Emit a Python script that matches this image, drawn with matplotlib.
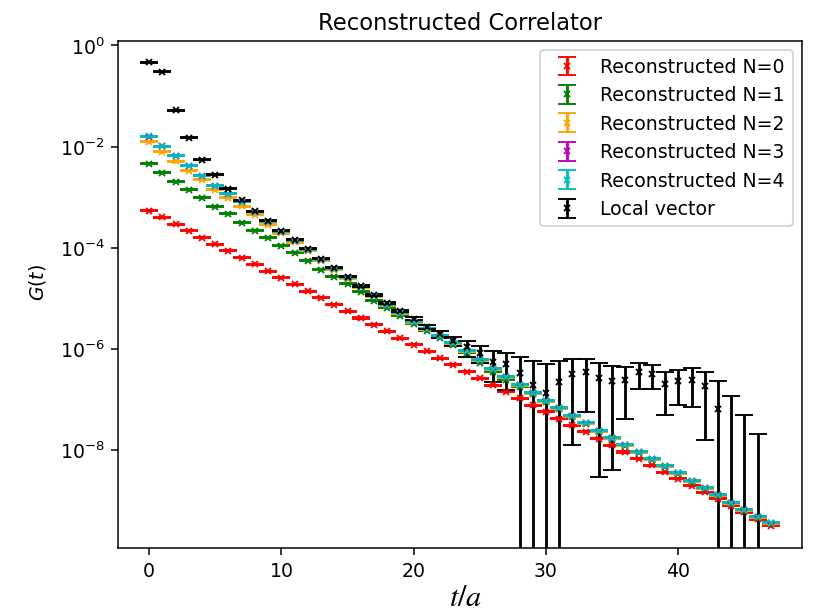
import numpy as np
import matplotlib
matplotlib.use("Agg")
import matplotlib.pyplot as plt
from matplotlib.ticker import FixedLocator, NullLocator

# ---------------- data ----------------
t = list(range(48))

G_N0 = [5.41e-4, 3.99e-4, 2.94e-4, 2.17e-4, 1.60e-4, 1.18e-4, 8.69e-5, 6.40e-5,
        4.72e-5, 3.48e-5, 2.56e-5, 1.89e-5, 1.39e-5, 1.03e-5, 7.57e-6, 5.58e-6,
        4.12e-6, 3.03e-6, 2.24e-6, 1.65e-6, 1.22e-6, 8.97e-7, 6.61e-7, 4.88e-7,
        3.59e-7, 2.65e-7, 1.95e-7, 1.44e-7, 1.06e-7, 7.82e-8, 5.77e-8, 4.25e-8,
        3.13e-8, 2.31e-8, 1.70e-8, 1.26e-8, 9.27e-9, 6.83e-9, 5.04e-9, 3.71e-9,
        2.74e-9, 2.02e-9, 1.49e-9, 1.10e-9, 8.08e-10, 5.96e-10, 4.39e-10, 3.24e-10]

G_N1 = [4.59e-3, 3.05e-3, 2.02e-3, 1.41e-3, 9.78e-4, 6.49e-4, 4.72e-4, 3.13e-4,
        2.18e-4, 1.58e-4, 1.10e-4, 8.00e-5, 5.56e-5, 3.69e-5, 2.69e-5, 1.95e-5,
        1.36e-5, 9.01e-6, 6.55e-6, 4.55e-6, 3.16e-6, 2.30e-6, 1.67e-6, 1.22e-6,
        8.45e-7, 5.36e-7, 3.56e-7, 2.47e-7, 1.80e-7, 1.31e-7, 9.12e-8, 6.64e-8,
        4.62e-8, 3.35e-8, 2.33e-8, 1.70e-8, 1.23e-8, 8.97e-9, 6.52e-9, 4.74e-9,
        3.45e-9, 2.40e-9, 1.75e-9, 1.27e-9, 8.81e-10, 6.40e-10, 4.66e-10, 3.54e-10]

G_N2 = [1.25e-2, 7.93e-3, 5.10e-3, 3.34e-3, 2.22e-3, 1.41e-3, 9.78e-4, 6.58e-4,
        4.51e-4, 2.86e-4, 1.94e-4, 1.29e-4, 8.77e-5, 5.56e-5, 3.69e-5, 2.45e-5,
        1.67e-5, 1.11e-5, 7.37e-6, 5.12e-6, 3.41e-6, 2.48e-6, 1.80e-6, 1.31e-6,
        9.10e-7, 6.05e-7, 4.02e-7, 2.79e-7, 1.94e-7, 1.35e-7, 9.36e-8, 6.82e-8,
        4.74e-8, 3.44e-8, 2.40e-8, 1.75e-8, 1.26e-8, 9.21e-9, 6.70e-9, 4.87e-9,
        3.54e-9, 2.47e-9, 1.80e-9, 1.30e-9, 9.06e-10, 6.58e-10, 4.79e-10, 3.64e-10]

G_N3 = [1.58e-2, 1.01e-2, 6.60e-3, 4.19e-3, 2.66e-3, 1.69e-3, 1.17e-3, 8.15e-4,
        5.17e-4, 3.28e-4, 2.08e-4, 1.38e-4, 9.16e-5, 5.82e-5, 3.86e-5, 2.56e-5,
        1.70e-5, 1.13e-5, 7.50e-6, 5.21e-6, 3.47e-6, 2.52e-6, 1.83e-6, 1.33e-6,
        9.25e-7, 6.15e-7, 4.08e-7, 2.83e-7, 1.97e-7, 1.37e-7, 9.50e-8, 6.92e-8,
        4.81e-8, 3.49e-8, 2.43e-8, 1.77e-8, 1.28e-8, 9.34e-9, 6.79e-9, 4.94e-9,
        3.59e-9, 2.50e-9, 1.82e-9, 1.32e-9, 9.18e-10, 6.67e-10, 4.85e-10, 3.69e-10]

G_N4 = [1.59e-2, 1.01e-2, 6.61e-3, 4.19e-3, 2.66e-3, 1.69e-3, 1.17e-3, 8.15e-4,
        5.17e-4, 3.28e-4, 2.08e-4, 1.38e-4, 9.16e-5, 5.82e-5, 3.86e-5, 2.56e-5,
        1.70e-5, 1.13e-5, 7.50e-6, 5.21e-6, 3.47e-6, 2.52e-6, 1.83e-6, 1.33e-6,
        9.25e-7, 6.15e-7, 4.08e-7, 2.83e-7, 1.97e-7, 1.37e-7, 9.50e-8, 6.92e-8,
        4.81e-8, 3.49e-8, 2.43e-8, 1.77e-8, 1.28e-8, 9.34e-9, 6.79e-9, 4.94e-9,
        3.59e-9, 2.50e-9, 1.82e-9, 1.32e-9, 9.18e-10, 6.67e-10, 4.85e-10, 3.69e-10]

# relative statistical error of the reconstructed correlators (read ~2.5 %)
rel_err_reco = 0.025

G_local = [4.61e-1, 2.98e-1, 5.19e-2, 1.50e-2, 5.51e-3, 2.79e-3, 1.47e-3, 8.65e-4,
           5.24e-4, 3.43e-4, 2.18e-4, 1.45e-4, 9.60e-5, 6.09e-5, 4.05e-5, 2.69e-5,
           1.78e-5, 1.18e-5, 8.22e-6, 5.71e-6, 3.97e-6, 2.76e-6, 2.01e-6, 1.46e-6,
           1.08e-6, 8.45e-7, 5.63e-7, 5.01e-7, 3.40e-7, 1.97e-7, 1.37e-7, 2.29e-7,
           3.28e-7, 3.50e-7, 2.73e-7, 2.39e-7, 2.44e-7, 3.50e-7, 3.27e-7, 2.06e-7,
           2.35e-7, 2.50e-7, 1.86e-7, 6.61e-8, -2.0e-8, -5.0e-8, -6.0e-8, -1.0e-7]

err_local = [1.0e-2, 7.0e-3, 1.3e-3, 3.8e-4, 1.4e-4, 7.0e-5, 3.8e-5, 2.2e-5,
             1.4e-5, 9.0e-6, 6.0e-6, 4.0e-6, 2.7e-6, 1.8e-6, 1.2e-6, 8.5e-7,
             6.0e-7, 4.5e-7, 3.5e-7, 2.8e-7, 2.8e-7, 3.0e-7, 3.2e-7, 3.1e-7,
             3.8e-7, 3.2e-7, 3.34e-7, 3.44e-7, 3.65e-7, 3.72e-7, 3.75e-7, 3.40e-7,
             3.15e-7, 2.93e-7, 2.70e-7, 2.35e-7, 2.03e-7, 1.86e-7, 1.63e-7, 1.55e-7,
             1.55e-7, 1.77e-7, 1.70e-7, 1.63e-7, 1.39e-7, 1.00e-7, 8.1e-8, 5.0e-8]

labels = ["Reconstructed N=0", "Reconstructed N=1", "Reconstructed N=2",
          "Reconstructed N=3", "Reconstructed N=4", "Local vector"]
colors = ["r", "g", "orange", "m", "c", "k"]

y_ticks = [1e0, 1e-2, 1e-4, 1e-6, 1e-8]

# ---------------- figure ----------------
DPI = 136
fig = plt.figure(figsize=(816 / DPI, 610.4 / DPI), dpi=DPI)
ax = fig.add_axes([118 / 816, 62 / 610, 684 / 816, 507 / 610])

reco = [G_N0, G_N1, G_N2, G_N3, G_N4]
for vals, col, lab in zip(reco, colors[:5], labels[:5]):
    v = np.array(vals)
    ax.errorbar(t, v, yerr=rel_err_reco * v, fmt="x", color=col, ms=3,
                capsize=5, label=lab)

ax.errorbar(t, np.array(G_local), yerr=np.array(err_local), fmt="x",
            color=colors[5], ms=3, capsize=5, label=labels[5])

ax.set_yscale("log")
ax.set_xlim(-2.35, 49.35)
ax.set_ylim(1.18e-10, 1.24)
ax.yaxis.set_major_locator(FixedLocator(y_ticks))
ax.yaxis.set_minor_locator(NullLocator())

ax.set_title("Reconstructed Correlator")
ax.legend(loc="upper right")

fig.text(38 / 816, 1 - 282 / 610, r"$G(t)$", rotation=90, ha="center",
         va="center", fontsize=10)
fig.text(466 / 816, 1 - 597 / 610, r"$t/a$", ha="center", va="center",
         fontsize=16, math_fontfamily="stix")

fig.savefig("out.png", dpi=DPI)
